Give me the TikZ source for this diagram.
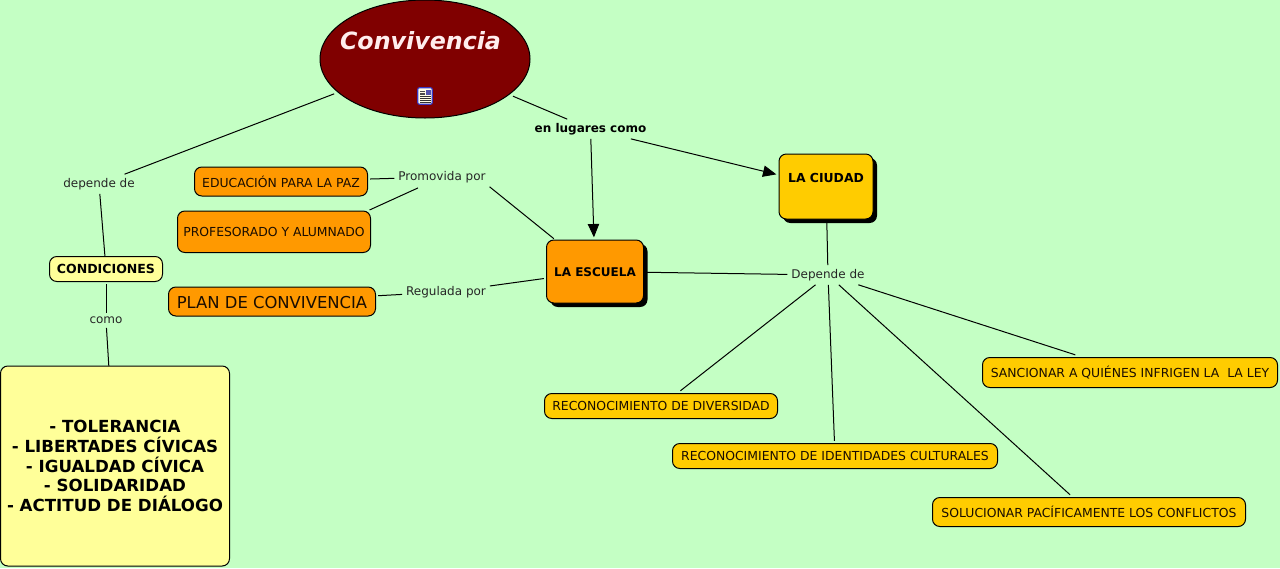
\documentclass[tikz,border=0pt]{standalone}
\usepackage{fontspec}
\setmainfont{DejaVu Sans}
\usetikzlibrary{shapes.geometric,shadows,arrows.meta}
\definecolor{bgc}{HTML}{C4FFC4}
\definecolor{orangec}{HTML}{FF9900}
\definecolor{goldc}{HTML}{FFCC00}
\definecolor{palec}{HTML}{FFFF99}
\definecolor{redc}{HTML}{800000}
\definecolor{inkc}{HTML}{1A0D00}
\tikzset{
  x=0.75pt,y=-0.75pt,
  fs/.style={font=\fontsize{#1}{#1}\selectfont},
  fsb/.style={font=\bfseries\fontsize{#1}{#1}\selectfont},
  concept/.style n args={3}{draw=black,line width=0.75pt,rounded corners=5.5pt,fill=#1,
     minimum width=#2*0.75pt,minimum height=#3*0.75pt,inner sep=0pt,text=inkc,align=center,outer sep=2pt},
  tdown/.style={text height=8.8pt+2*#1,text depth=2pt},
  linkword/.style={fs=9,fill=none,inner sep=2pt,outer sep=1pt,text=black!85},
  conn/.style={draw=black,line width=0.75pt},
  arr/.style={conn,-{Triangle[length=10pt,width=8.5pt]}},
  shad/.style={drop shadow={shadow xshift=3pt,shadow yshift=-3pt,fill=black,opacity=1}},
}
\begin{document}
\begin{tikzpicture}
\useasboundingbox (0,0) rectangle (1280,568);
\fill[bgc] (0,0) rectangle (1280,568);
% nodes
\node[ellipse,draw=black,line width=0.75pt,fill=redc,minimum width=157.5pt,minimum height=88.5pt,inner sep=0pt,outer sep=3pt] (main) at (425,59) {};
\node[fsb=17.8,font=\bfseries\itshape\fontsize{17.8}{17.8}\selectfont,text=white!93!red,inner sep=0pt] (maintext) at (420.5,41) {Convivencia};
\node[linkword,fsb=9,text=black] (lugares) at (590.5,129) {en lugares como};
\node[concept={goldc}{94}{65},shad,fsb=9.3,text=black,text height=8pt,text depth=14.3pt] (ciudad) at (826,186.5) {LA CIUDAD};
\node[concept={orangec}{97}{63},shad,fsb=9,text=black,tdown=0pt] (escuela) at (595,271.5) {LA ESCUELA};
\node[linkword] (depende2) at (828,275) {Depende de};
\node[linkword] (depende) at (99,184) {depende de};
\node[linkword] (promovida) at (442,177) {Promovida por};
\node[linkword] (regulada) at (446,292) {Regulada por};
\node[linkword] (como) at (106,320.5) {como};
\node[concept={palec}{113}{25},fsb=9.4,text=black,outer sep=0pt,tdown=-0.4pt] (condiciones) at (106,269) {CONDICIONES};
\node[concept={palec}{229}{200},font=\bfseries\fontsize{12.5}{14.7}\selectfont,text=black,outer sep=0pt] (lista) at (115,466) {- TOLERANCIA\\- LIBERTADES CÍVICAS\\- IGUALDAD CÍVICA\\- SOLIDARIDAD\\- ACTITUD DE DIÁLOGO};
\node[concept={orangec}{173}{29},fs=9.3,tdown=1.35pt] (educacion) at (281,181.5) {EDUCACIÓN PARA LA PAZ};
\node[concept={orangec}{193}{41.5},fs=9.3,tdown=0pt] (profesorado) at (274,231.75) {PROFESORADO Y ALUMNADO};
\node[concept={orangec}{207}{29},fs=12.3,text height=11.8pt,text depth=2pt] (plan) at (272,301.5) {PLAN DE CONVIVENCIA};
\node[concept={goldc}{233}{25},fs=9.3,tdown=0pt] (diversidad) at (661,406) {RECONOCIMIENTO DE DIVERSIDAD};
\node[concept={goldc}{325}{25},fs=9.3,tdown=0pt] (identidades) at (835,456) {RECONOCIMIENTO DE IDENTIDADES CULTURALES};
\node[concept={goldc}{313}{29},fs=9.3,tdown=0.75pt] (solucionar) at (1089,512) {SOLUCIONAR PACÍFICAMENTE LOS CONFLICTOS};
\node[concept={goldc}{295}{30},fs=9.3,tdown=0.4pt] (sancionar) at (1130,372.5) {SANCIONAR A QUIÉNES INFRIGEN LA\ \ LA LEY};
% icon
\node[draw=blue!55!gray,line width=0.9pt,fill=white!90!yellow,rounded corners=1.5pt,minimum width=11pt,minimum height=12.5pt,inner sep=0pt] (icon) at (425,96) {};
\fill[black!70] (420,90.5) rectangle (424.5,92);
\fill[black!70] (420,93) rectangle (424.5,94.5);
\fill[blue!35!gray] (425.5,90) rectangle (430.5,95);
\foreach \yy in {96.5,98.5,100.5,102.5} \draw[black!80,line width=0.6pt] (420,\yy) -- (430.5,\yy);
% connectors
\draw[conn] (main) -- (depende);
\draw[conn] (main) -- (lugares);
\draw[arr] (lugares) -- (escuela);
\draw[arr] (lugares) -- (ciudad);
\draw[conn] (depende) -- (condiciones);
\draw[conn,shorten <=2pt] (condiciones) -- (como);
\draw[conn] (como) -- (lista);
\draw[conn] (educacion) -- (promovida);
\draw[conn,shorten <=-3pt,shorten >=2pt] (profesorado.north east) -- (promovida);
\draw[conn] (promovida.south east) -- ([xshift=7.5pt,yshift=-1pt]escuela.north west);
\draw[conn] (plan) -- (regulada);
\draw[conn] (regulada) -- (escuela);
\draw[conn] (escuela) -- (depende2);
\draw[conn] (ciudad) -- (depende2);
\draw[conn] (depende2) -- (diversidad);
\draw[conn] (depende2) -- (identidades);
\draw[conn] (depende2) -- (solucionar);
\draw[conn] (depende2) -- (sancionar);
\end{tikzpicture}
\end{document}
